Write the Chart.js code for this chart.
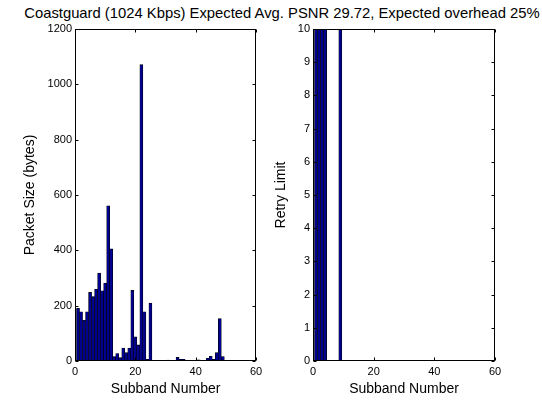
<!DOCTYPE html>
<html>
<head>
<meta charset="utf-8">
<script src="https://cdn.jsdelivr.net/npm/chart.js@4.4.0/dist/chart.umd.min.js"></script>
<style>
  html, body { margin: 0; padding: 0; background: #fff; }
  body { width: 542px; height: 401px; position: relative; overflow: hidden; }
  #title { position: absolute; left: 0; top: 5px; width: 564px; text-align: center;
           font: 14.8px "Liberation Sans", Arial, sans-serif; line-height: 17px; color: #000; white-space: nowrap; }
  canvas { position: absolute; top: 0; }
</style>
</head>
<body>
<div id="title">Coastguard (1024 Kbps) Expected Avg. PSNR 29.72, Expected overhead 25%</div>
<canvas id="c1" width="271" height="401" style="left:0px"></canvas>
<canvas id="c2" width="271" height="401" style="left:271px"></canvas>
<script>
// ---- data ----
const subbands = [];
for (let i = 1; i <= 49; i++) subbands.push(i);
const packetSizes = [190, 178, 147, 178, 248, 233, 259, 318, 254, 282,
                     561, 405, 16, 27, 12, 47, 30, 47, 255, 87,
                     58, 1071, 178, 6, 209, 0, 0, 0, 0, 0,
                     3, 0, 0, 13, 6, 6, 0, 0, 0, 0,
                     4, 2, 0, 10, 17, 6, 30, 153, 16];
const retryLimits = [10, 10, 10, 10, 0, 0, 0, 0, 10, 0,
                     0, 0, 0, 0, 0, 0, 0, 0, 0, 0,
                     0, 0, 0, 0, 0, 0, 0, 0, 0, 0,
                     0, 0, 0, 0, 0, 0, 0, 0, 0, 0,
                     0, 0, 0, 0, 0, 0, 0, 0, 0];
const xTicks = [0, 20, 40, 60];
const sizeTicks = [0, 200, 400, 600, 800, 1000, 1200];
const retryTicks = [0, 1, 2, 3, 4, 5, 6, 7, 8, 9, 10];

const FONT = '"Liberation Sans", Arial, sans-serif';

const boxPlugin = {
  id: 'box',
  afterDatasetsDraw(chart) {
    const { ctx, chartArea: a, scales } = chart;
    const L = Math.round(a.left) + 0.5, R = Math.round(a.right) - 0.5;
    const T = Math.round(a.top) + 0.5, B = Math.round(a.bottom) - 0.5;
    ctx.save();
    ctx.strokeStyle = '#000';
    ctx.lineWidth = 1;
    ctx.beginPath();
    const tl = 3;
    scales.x.ticks.forEach(t => {
      const px = Math.round(scales.x.getPixelForValue(t.value)) + 0.5;
      ctx.moveTo(px, B); ctx.lineTo(px, B - tl);
      ctx.moveTo(px, T); ctx.lineTo(px, T + tl);
    });
    scales.y.ticks.forEach(t => {
      const py = Math.round(scales.y.getPixelForValue(t.value)) + 0.5;
      ctx.moveTo(L, py); ctx.lineTo(L + tl, py);
      ctx.moveTo(R, py); ctx.lineTo(R - tl, py);
    });
    ctx.stroke();
    ctx.strokeRect(L, T, R - L, B - T);
    ctx.restore();
  }
};

function makeChart(id, values, yTicks, yTitle, yWidth, padRight, yTitlePad) {
  const pts = subbands.map((s, i) => ({ x: s, y: values[i] }));
  return new Chart(document.getElementById(id), {
    type: 'bar',
    data: {
      datasets: [{
        data: pts,
        backgroundColor: '#00008F',
        borderColor: '#000000',
        borderWidth: 0.6,
        borderSkipped: 'bottom',
        barPercentage: 1.0,
        categoryPercentage: 1.0
      }]
    },
    options: {
      responsive: false,
      animation: false,
      events: [],
      layout: { padding: { left: 0, right: padRight, top: 29, bottom: 0 } },
      plugins: { legend: { display: false }, tooltip: { enabled: false }, title: { display: false } },
      scales: {
        x: {
          type: 'linear',
          min: 0, max: 60,
          offset: false,
          grid: { display: false, drawTicks: false },
          border: { display: false },
          afterBuildTicks: s => { s.ticks = xTicks.map(v => ({ value: v })); },
          afterFit: s => { s.height = 40; },
          ticks: { color: '#000', font: { family: FONT, size: 11 }, padding: 4, maxRotation: 0,
                   callback: v => String(v) },
          title: { display: true, text: 'Subband Number', color: '#000',
                   font: { family: FONT, size: 14 }, padding: { top: 0, bottom: 3 } }
        },
        y: {
          min: yTicks[0], max: yTicks[yTicks.length - 1],
          grid: { display: false, drawTicks: false },
          border: { display: false },
          afterBuildTicks: s => { s.ticks = yTicks.map(v => ({ value: v })); },
          afterFit: s => { s.width = yWidth; },
          ticks: { color: '#000', font: { family: FONT, size: 11 }, padding: 3,
                   callback: v => String(v) },
          title: { display: true, text: yTitle, color: '#000',
                   font: { family: FONT, size: 14 }, padding: { top: yTitlePad, bottom: 0 } }
        }
      }
    },
    plugins: [boxPlugin]
  });
}

makeChart('c1', packetSizes, sizeTicks, 'Packet Size (bytes)', 75, 15, 22);
makeChart('c2', retryLimits, retryTicks, 'Retry Limit', 42, 47, 2);
</script>
</body>
</html>
